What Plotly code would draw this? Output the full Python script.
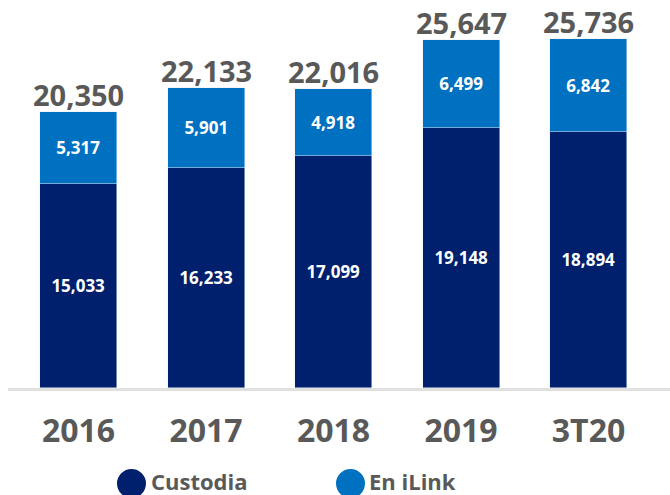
import plotly.graph_objects as go

categories = ["2016", "2017", "2018", "2019", "3T20"]
custodia = [15033, 16233, 17099, 19148, 18894]
en_ilink = [5317, 5901, 4918, 6499, 6842]
totals = [20350, 22133, 22016, 25647, 25736]
series_names = ["Custodia", "En iLink"]

navy = "#001F6C"
blue = "#0070C0"
gray = "#595959"
font = "Open Sans"

x = list(range(len(categories)))

fig = go.Figure()
for vals, name, col in [(custodia, series_names[0], navy), (en_ilink, series_names[1], blue)]:
    fig.add_trace(go.Bar(
        x=x, y=vals, name=name, marker_color=col, width=0.604,
        text=[f"{v:,}" for v in vals], textposition="inside",
        insidetextanchor="middle", textangle=0,
        textfont=dict(color="white", size=17, family=font, weight="bold"),
        showlegend=False,
    ))

for i, t in enumerate(totals):
    fig.add_annotation(
        x=x[i], y=t, xref="x", yref="y", text=f"{t:,}", showarrow=False,
        yanchor="bottom", yshift=-4,
        font=dict(color=gray, size=29, family=font, weight="bold"),
    )

# manual legend (circles + labels), figure pixel coords converted to paper
W, H = 670, 495
plot_left, plot_right = 8, 670
plot_top, plot_bottom = 10, 388
pw = plot_right - plot_left
ph = plot_bottom - plot_top
def px(fx):
    return (fx - plot_left) / pw
def py(fy):
    return (plot_bottom - fy) / ph

legend_items = [(series_names[0], navy, 131.5, 150), (series_names[1], blue, 350.5, 368)]
cy, r = 483.5, 14.5
text_cy = 480.5
for name, col, cx, tx in legend_items:
    fig.add_shape(type="circle", xref="paper", yref="paper",
                  x0=px(cx - r), x1=px(cx + r), y0=py(cy + r), y1=py(cy - r),
                  fillcolor=col, line=dict(width=0))
    fig.add_annotation(x=px(tx), y=py(text_cy), xref="paper", yref="paper",
                       xanchor="left", yanchor="middle", text=name, showarrow=False,
                       borderpad=0,
                       font=dict(color=gray, size=22, family=font, weight="bold"))

fig.update_layout(
    width=W, height=H,
    barmode="stack",
    plot_bgcolor="white", paper_bgcolor="white",
    margin=dict(l=plot_left, r=W - plot_right, t=plot_top, b=H - plot_bottom, pad=0),
    font=dict(family=font, color=gray),
    xaxis=dict(
        range=[-0.553, 4.639], tickmode="array", tickvals=x, ticktext=categories,
        tickfont=dict(size=32, family=font, color=gray, weight="bold"),
        showline=True, linecolor="#E0E0E0", linewidth=3, showgrid=False,
        ticks="", ticklen=0, zeroline=False, ticklabelstandoff=13,
    ),
    yaxis=dict(range=[0, 27876], visible=False, showgrid=False),
    showlegend=False,
    bargap=0,
)
fig.write_html("out.html", config={"displayModeBar": False},
               post_script="document.body.style.margin='0';")
